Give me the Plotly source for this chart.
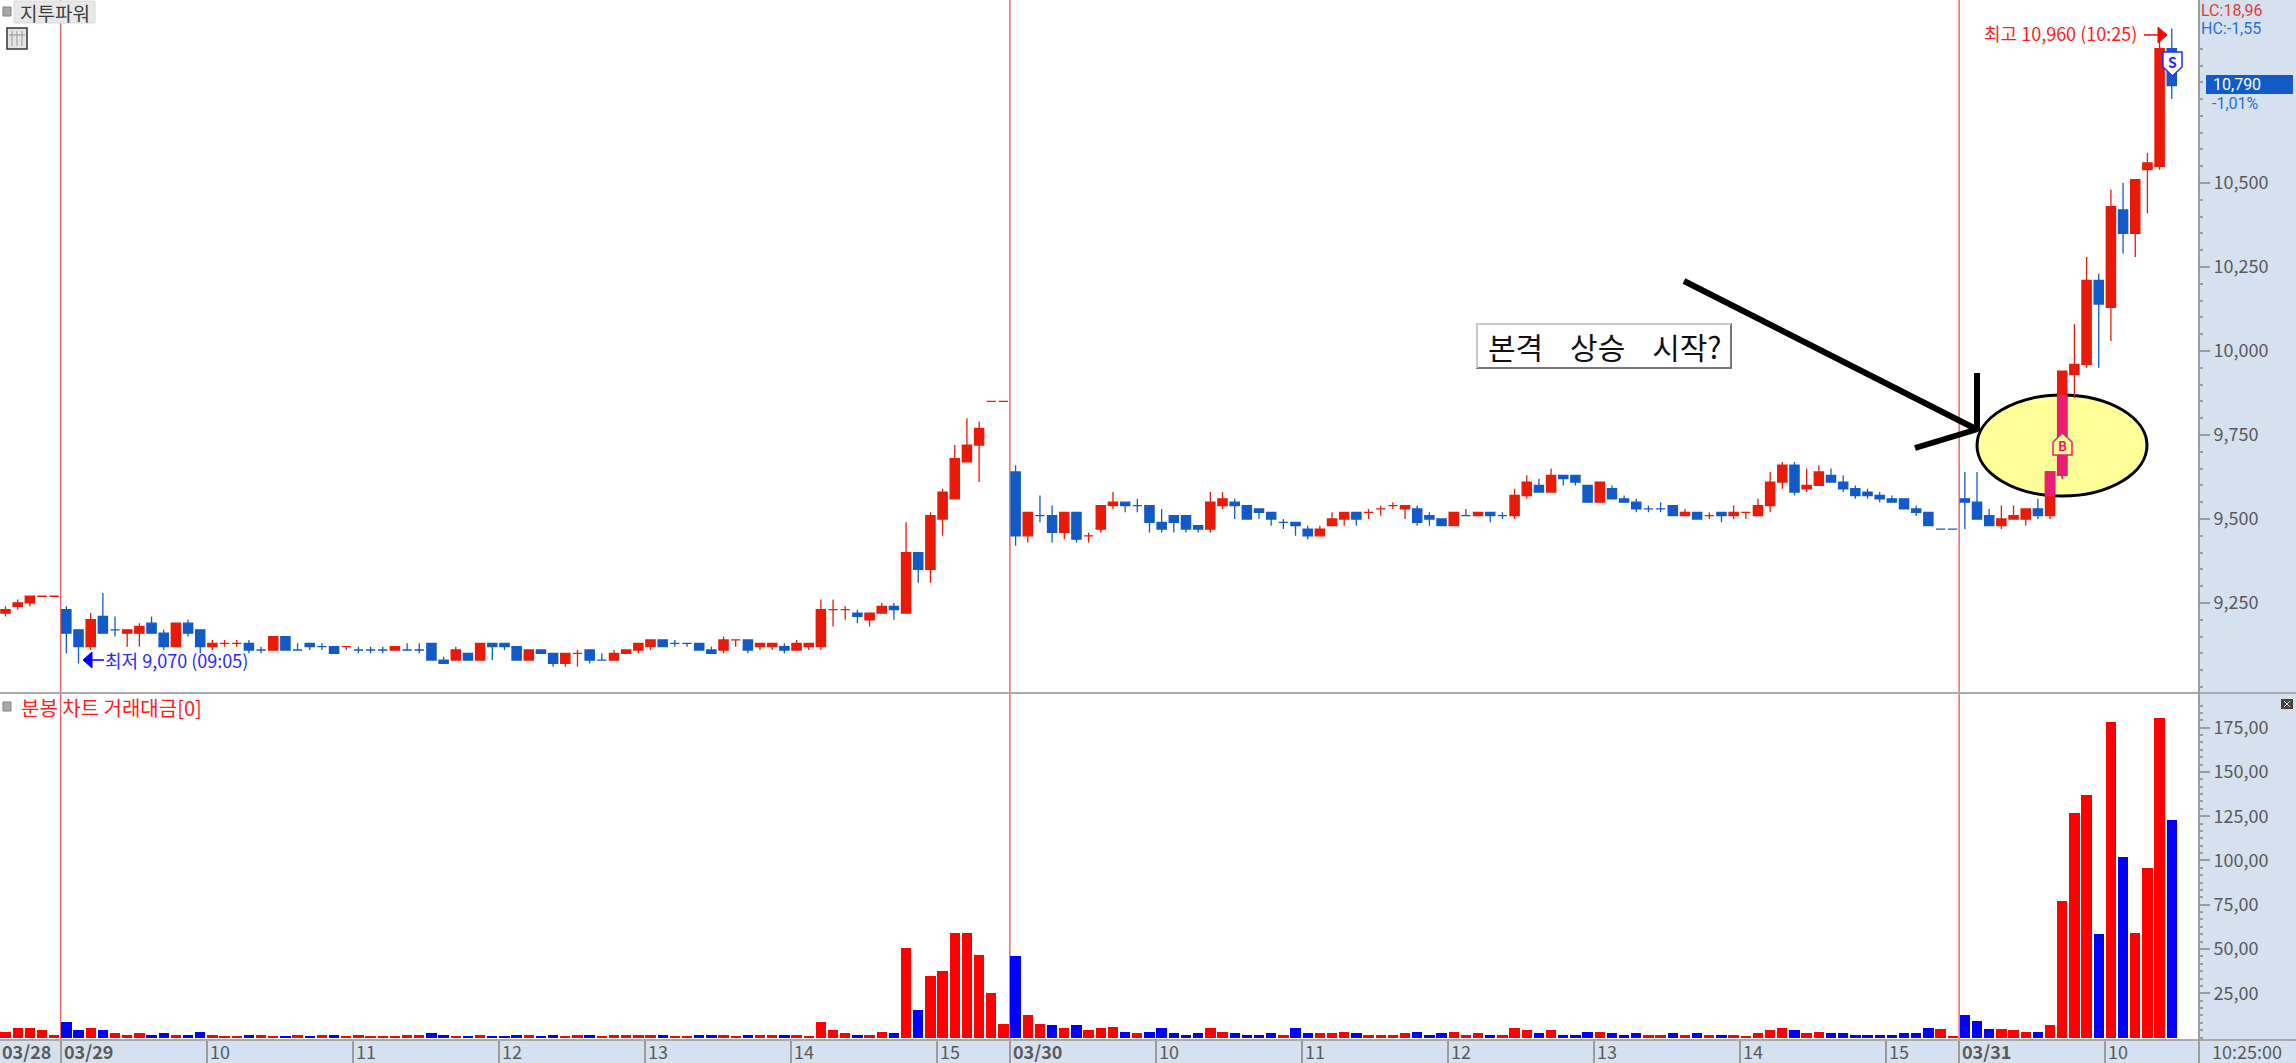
import plotly.graph_objects as go

W, H = 2296, 1063
FONT = "Noto Sans CJK KR"
LATIN = "Roboto"

opens = [9220,9240,9250,9270,9270,9230,9170,9120,9210,9170,
 9160,9160,9190,9160,9120,9190,9170,9120,9130,9130,
 9130,9110,9110,9150,9110,9130,9120,9120,9120,9110,
 9110,9110,9110,9110,9110,9130,9080,9080,9100,9080,
 9130,9130,9120,9080,9110,9100,9070,9100,9110,9080,
 9080,9100,9110,9120,9140,9130,9130,9130,9110,9110,
 9140,9140,9120,9120,9120,9110,9120,9120,9230,9230,
 9220,9200,9220,9240,9220,9400,9350,9500,9560,9670,
 9720,9850,9850,9640,9450,9510,9510,9460,9520,9450,
 9470,9540,9550,9540,9540,9490,9510,9510,9480,9470,
 9540,9550,9540,9530,9520,9490,9490,9470,9450,9480,
 9500,9520,9520,9530,9540,9530,9530,9510,9500,9480,
 9510,9510,9520,9510,9510,9570,9600,9580,9630,9630,
 9600,9550,9590,9560,9550,9530,9530,9540,9510,9520,
 9510,9520,9510,9520,9510,9540,9610,9660,9590,9600,
 9630,9610,9590,9580,9570,9560,9560,9530,9520,9470,
 9470,9560,9550,9510,9480,9500,9500,9530,9510,9630,
 9930,9960,10210,10130,10420,10350,10540,10550,10900]
highs = [9240,9260,9270,9270,9270,9240,9170,9220,9280,9210,
 9170,9190,9210,9170,9190,9200,9170,9140,9140,9140,
 9140,9120,9150,9150,9130,9130,9130,9120,9120,9120,
 9120,9120,9120,9130,9130,9130,9090,9120,9100,9130,
 9130,9130,9120,9110,9110,9100,9100,9110,9110,9100,
 9110,9110,9130,9140,9140,9140,9130,9130,9120,9150,
 9140,9140,9130,9130,9130,9140,9130,9260,9260,9240,
 9230,9220,9250,9250,9490,9400,9520,9590,9720,9800,
 9790,9850,9850,9660,9520,9570,9540,9520,9520,9460,
 9540,9580,9550,9560,9540,9530,9510,9510,9480,9580,
 9580,9560,9540,9530,9520,9500,9490,9480,9480,9520,
 9520,9520,9530,9540,9550,9540,9540,9520,9500,9520,
 9530,9520,9520,9520,9590,9630,9620,9650,9630,9630,
 9600,9610,9600,9570,9560,9540,9550,9540,9530,9520,
 9520,9520,9540,9520,9560,9640,9670,9670,9650,9660,
 9650,9630,9600,9590,9580,9570,9560,9540,9520,9470,
 9470,9640,9640,9530,9540,9540,9530,9560,9640,9940,
 10080,10280,10230,10480,10500,10510,10590,10920,10960]
lows = [9210,9230,9240,9270,9270,9100,9070,9110,9160,9150,
 9120,9120,9160,9110,9120,9150,9100,9110,9120,9120,
 9100,9100,9110,9110,9110,9110,9110,9100,9110,9100,
 9100,9100,9110,9110,9100,9080,9070,9080,9080,9080,
 9080,9110,9080,9080,9100,9060,9060,9060,9070,9080,
 9080,9100,9100,9110,9120,9120,9120,9110,9100,9100,
 9120,9100,9110,9110,9100,9110,9110,9110,9180,9200,
 9190,9180,9220,9200,9220,9310,9310,9450,9560,9670,
 9610,9850,9850,9420,9430,9490,9430,9440,9430,9430,
 9460,9530,9520,9520,9460,9460,9460,9460,9460,9460,
 9530,9500,9500,9500,9480,9470,9450,9440,9450,9480,
 9480,9480,9500,9510,9530,9500,9480,9480,9480,9480,
 9510,9510,9490,9500,9500,9560,9580,9580,9600,9600,
 9550,9550,9560,9550,9520,9520,9520,9510,9510,9500,
 9500,9490,9500,9500,9510,9520,9590,9570,9580,9600,
 9610,9580,9560,9560,9550,9550,9530,9510,9480,9470,
 9470,9470,9500,9480,9470,9500,9480,9500,9500,9620,
 9860,9950,9950,10030,10290,10280,10410,10540,10750]
closes = [9230,9250,9270,9270,9270,9160,9120,9200,9160,9170,
 9170,9180,9160,9120,9190,9160,9120,9130,9130,9130,
 9110,9110,9150,9110,9110,9120,9120,9100,9120,9110,
 9110,9110,9120,9110,9110,9080,9070,9110,9080,9130,
 9120,9120,9080,9110,9100,9070,9100,9100,9080,9080,
 9100,9110,9130,9140,9120,9130,9130,9110,9100,9140,
 9140,9110,9130,9130,9110,9130,9130,9230,9230,9230,
 9210,9220,9240,9230,9400,9350,9510,9580,9680,9720,
 9770,9850,9850,9450,9520,9510,9460,9520,9440,9450,
 9540,9550,9540,9540,9490,9470,9490,9470,9470,9550,
 9560,9540,9500,9520,9500,9490,9480,9450,9470,9500,
 9520,9500,9520,9530,9540,9540,9490,9500,9480,9520,
 9510,9520,9510,9510,9570,9610,9580,9630,9620,9610,
 9550,9610,9560,9550,9530,9530,9530,9510,9520,9500,
 9510,9510,9520,9520,9540,9610,9660,9580,9600,9640,
 9610,9590,9570,9570,9560,9550,9530,9520,9480,9470,
 9470,9550,9500,9480,9500,9510,9530,9510,9640,9940,
 9960,10210,10140,10430,10350,10510,10560,10900,10790]
flat_blue = [9,21,24,26,29,30,31,33,34,49,55,56,85,93,105,120,123,135,136,159,160]
volume = [3.4,5.1,5.1,4.1,1.7,8.7,4.1,5.1,4.1,2.6,
 1.7,2.6,1.7,2.6,1.7,1.7,3.4,1.7,0.8,0.8,
 1.7,1.7,0.8,0.8,1.7,0.8,1.7,1.7,0.8,1.7,
 0.8,0.8,0.8,1.7,1.7,2.6,1.7,0.8,0.8,1.7,
 0.8,0.8,1.2,1.7,0.8,1.7,0.8,1.2,1.7,0.8,
 1.7,1.2,1.7,1.7,1.2,0.8,0.8,1.2,1.2,1.7,
 0.8,1.7,1.2,1.2,1.2,1.7,0.8,8.5,4.1,2.4,
 1.7,1.7,3.4,2.4,50.8,15.3,34.7,37.3,59.3,59.3,
 46.5,25.4,7.5,45.8,12.6,7.5,6.8,5.1,6.8,4.1,
 5.1,5.8,3.4,2.4,3.4,5.1,2.4,1.7,2.4,5.1,
 3.4,2.4,1.7,1.7,2.4,1.7,5.1,2.4,2.4,2.4,
 3.4,2.4,1.7,1.2,1.2,2.4,3.4,1.7,2.4,3.4,
 1.7,2.4,1.7,1.2,5.1,4.1,2.4,4.1,1.7,1.7,
 3.4,3.4,2.4,1.7,2.4,1.2,1.2,2.4,1.7,2.4,
 1.2,1.7,1.7,0.8,2.4,4.1,5.1,4.1,2.4,3.4,
 2.4,2.4,1.7,1.7,1.7,1.7,2.4,2.4,5.1,4.9,
 0.8,12.6,9.2,4.9,4.9,4.1,3.4,3.4,6.8,77,
 127,137,58.4,178,101.7,59,95.7,180.4,122.8]

highlight_x = [168, 169]
highlight_open = [9570, 9630]
highlight_high = [9640, 9867]
highlight_low = [9570, 9620]
highlight_close = [9640, 9867]

time_bar = [5,17,29,41,53,65,77,83,95,107,119,131,143,155,161,173]
time_text = ["03/29","10","11","12","13","14","15","03/30","10","11","12","13","14","15","03/31","10"]
day_bars = [5, 83, 161]

price_ticks = [9250,9500,9750,10000,10250,10500,10750]
price_text = ["9,250","9,500","9,750","10,000","10,250","10,500",""]
price_minor = [v for v in range(9000, 10901, 50)]
vol_ticks = [25,50,75,100,125,150,175]
vol_text = ["25,00","50,00","75,00","100,00","125,00","150,00","175,00"]
vol_minor = [i*25/6 for i in range(0, 46)]

RED, BLUE = "#E81A08", "#125AC8"
VRED, VBLUE = "#FF0000", "#0000FF"
PINK = "#E91E74"
GRAY = "#9C9C9C"
TXT = "#5A5A5A"
PANEL = "#D6E1EF"

n = len(closes)
xs = list(range(n))
is_blue = [closes[i] < opens[i] or (closes[i] == opens[i] and i in flat_blue) for i in xs]

def sub(lst, idx):
    return [lst[i] for i in idx]

def candle(idx, color):
    return go.Candlestick(
        x=idx, open=sub(opens, idx), high=sub(highs, idx), low=sub(lows, idx), close=sub(closes, idx),
        increasing=dict(line=dict(color=color, width=1.3), fillcolor=color),
        decreasing=dict(line=dict(color=color, width=1.3), fillcolor=color),
        whiskerwidth=0, xaxis="x", yaxis="y", showlegend=False, hoverinfo="skip")

fig = go.Figure()
red_i = [i for i in xs if not is_blue[i]]
blue_i = [i for i in xs if is_blue[i]]
fig.add_trace(candle(red_i, RED))
fig.add_trace(candle(blue_i, BLUE))
fig.add_trace(go.Candlestick(
    x=highlight_x, open=highlight_open, high=highlight_high, low=highlight_low, close=highlight_close,
    increasing=dict(line=dict(color=PINK, width=1.3), fillcolor=PINK),
    decreasing=dict(line=dict(color=PINK, width=1.3), fillcolor=PINK),
    whiskerwidth=0, xaxis="x", yaxis="y", showlegend=False, hoverinfo="skip"))

vr = [i for i in xs if closes[i] >= opens[i]]
vb = [i for i in xs if closes[i] < opens[i]]
fig.add_trace(go.Bar(x=vr, y=sub(volume, vr), marker=dict(color=VRED, line=dict(width=0)), width=0.85,
                     xaxis="x2", yaxis="y2", showlegend=False, hoverinfo="skip"))
fig.add_trace(go.Bar(x=vb, y=sub(volume, vb), marker=dict(color=VBLUE, line=dict(width=0)), width=0.85,
                     xaxis="x2", yaxis="y2", showlegend=False, hoverinfo="skip"))

PX0, PXS = 5.5, 12.17
XR = [(0 - PX0) / PXS, (2199 - PX0) / PXS]
px = lambda x: x / W
py = lambda y: 1 - y / H
tick_pos = [b - 0.47 for b in time_bar]

def prect(x0, y0, x1, y1, fill, line=None, lw=1, layer="above"):
    return dict(type="rect", xref="paper", yref="paper", x0=px(x0), x1=px(x1), y0=py(y0), y1=py(y1),
                fillcolor=fill, line=dict(color=line or fill, width=lw if line else 0), layer=layer)

def pline(x0, y0, x1, y1, color, lw, layer="above"):
    return dict(type="line", xref="paper", yref="paper", x0=px(x0), x1=px(x1), y0=py(y0), y1=py(y1),
                line=dict(color=color, width=lw), layer=layer)

def ppath(pts, fill, line, lw=1.5, layer="above"):
    d = "M " + " L ".join(f"{px(x):.5f},{py(y):.5f}" for x, y in pts) + " Z"
    return dict(type="path", xref="paper", yref="paper", path=d, fillcolor=fill,
                line=dict(color=line, width=lw), layer=layer)

shapes = []
# separators
shapes.append(pline(0, 693, W, 693, "#ABABAB", 2))
shapes.append(pline(0, 1040, W, 1040, "#ABABAB", 2))
shapes.append(pline(2199, 0, 2199, H, GRAY, 2))
# day lines
for b in day_bars:
    shapes.append(dict(type="line", xref="x", yref="paper", x0=b-0.47, x1=b-0.47, y0=py(1040), y1=1,
                       line=dict(color="#E56B6B", width=1.5), layer="below"))
# ellipse
shapes.append(dict(type="circle", xref="paper", yref="paper", x0=px(1977), x1=px(2147), y0=py(496), y1=py(395),
                   fillcolor="#FFFF99", line=dict(color="#000000", width=3), layer="below"))
# hand drawn arrow
shapes.append(pline(1684, 281, 1976, 429, "#000000", 6))
shapes.append(pline(1977, 373, 1977, 431, "#000000", 6))
shapes.append(pline(1915, 448, 1978, 429, "#000000", 6))
# text box with bevelled border
shapes.append(prect(1477, 324, 1731, 368, "#FFFFFF", "#777777", 2))
shapes.append(pline(1476, 324, 1731, 324, "#C8C8C8", 2))
shapes.append(pline(1477, 324, 1477, 368, "#C8C8C8", 2))
# S marker and B marker
shapes.append(ppath([(2163,52),(2182,52),(2182,67),(2172.5,76),(2163,67)], "#FFFFFF", "#2A2AFF", 1.5))
shapes.append(ppath([(2053,442),(2062.5,433),(2072,442),(2072,455),(2053,455)], "#FFFF99", PINK, 1.5))
# high / low arrows
shapes.append(pline(2144, 35, 2160, 35, "#FF0000", 1.5))
shapes.append(ppath([(2158,27),(2167,35),(2158,43)], "#FF0000", "#FF0000", 1))
shapes.append(pline(90, 660, 104, 660, "#0000FF", 1.5))
shapes.append(ppath([(92,652),(83,660),(92,668)], "#0000FF", "#0000FF", 1))
# price tag
shapes.append(prect(2206, 75, 2293, 94, "#125AC8"))
# corner widgets
shapes.append(prect(3, 7, 11, 16, "#A8A8A8", "#808080", 1))
shapes.append(prect(14, 1, 95, 23, "#E8E8E8", "#DADADA", 1))
shapes.append(prect(7, 28, 27, 49, "#E4E4E4", "#333333", 1.5))
for gx in (12, 17, 22):
    shapes.append(pline(gx, 31, gx, 46, "#999999", 1))
shapes.append(pline(9, 35, 25, 35, "#999999", 1))
shapes.append(prect(3, 702, 11, 711, "#A8A8A8", "#808080", 1))
shapes.append(prect(2281, 699, 2293, 709, "#444444"))
shapes.append(pline(2284, 701, 2290, 707, "#E0E0E0", 1))
shapes.append(pline(2284, 707, 2290, 701, "#E0E0E0", 1))

def note(x, y, text, color, size, anchor="left", bold=False, family=FONT):
    if bold:
        text = f"<b>{text}</b>"
    return dict(xref="paper", yref="paper", x=px(x), y=py(y), text=text, showarrow=False,
                xanchor=anchor, yanchor="middle", font=dict(family=family, size=size, color=color),
                borderpad=0, borderwidth=0)

ann = []
ann.append(note(2, 1051, "03/28", TXT, 18, bold=True))
for b, t in zip(time_bar, time_text):
    xp = PX0 + (b - 0.47) * PXS + 3
    ann.append(note(xp, 1051, t, TXT, 18, bold="/" in t))
ann.append(note(2212, 1051, "10:25:00", TXT, 18))
ann.append(note(2201, 10, "LC:18,96", "#E03A3A", 16, family=LATIN))
ann.append(note(2201, 29, "HC:-1,55", "#2A6FD6", 16, family=LATIN))
ann.append(note(2213, 84.5, "10,790", "#FFFFFF", 16, family=LATIN))
ann.append(note(2212, 103.5, "-1,01%", "#2A6FD6", 16, family=LATIN))
ann.append(note(2137, 33, "최고 10,960 (10:25)", "#FF2020", 18, anchor="right"))
ann.append(note(105, 660, "최저 9,070 (09:05)", "#2A2AFF", 18))
ann.append(note(20, 12, "지투파워", "#3C3C3C", 19))
ann.append(note(21, 707, "분봉 차트 거래대금[0]", "#FF2020", 20))
ann.append(note(1605, 346, "본격\u00a0\u00a0\u00a0\u00a0상승\u00a0\u00a0\u00a0\u00a0시작?", "#111111", 30, anchor="center"))
ann.append(note(2172.5, 62, "S", "#2A2AFF", 14, anchor="center", bold=True))
ann.append(note(2062.5, 446, "B", PINK, 13, anchor="center", bold=True))

axis_common = dict(showgrid=False, zeroline=False, fixedrange=True)
fig.update_layout(
    width=W, height=H, margin=dict(l=0, r=0, t=0, b=0, pad=0),
    paper_bgcolor=PANEL, plot_bgcolor="#FFFFFF",
    barmode="overlay", bargap=0, showlegend=False,
    boxmode="overlay", boxgap=0.24, boxgroupgap=0,
    font=dict(family=FONT, size=18, color=TXT),
    shapes=shapes, annotations=ann,
    xaxis=dict(domain=[0, 2199/W], range=XR, anchor="y", showticklabels=False, ticks="",
               rangeslider=dict(visible=False), **axis_common),
    yaxis=dict(domain=[py(693), 1], range=[8982, 11045], anchor="x", side="right",
               tickmode="array", tickvals=price_ticks, ticktext=price_text,
               ticks="outside", ticklen=10, tickwidth=1.5, tickcolor=GRAY,
               tickfont=dict(family=FONT, size=18, color=TXT),
               minor=dict(tickmode="array", tickvals=price_minor, ticks="outside", ticklen=3,
                          tickwidth=1.5, tickcolor=GRAY, showgrid=False),
               **axis_common),
    xaxis2=dict(domain=[0, 2199/W], range=XR, anchor="y2", tickmode="array", tickvals=tick_pos,
                ticktext=["" for _ in tick_pos], ticks="outside", ticklen=23, tickwidth=1.5, tickcolor=GRAY,
                **axis_common),
    yaxis2=dict(domain=[py(1040), py(693)], range=[-1.4, 194.6], anchor="x2", side="right",
                tickmode="array", tickvals=vol_ticks, ticktext=vol_text,
                ticks="outside", ticklen=10, tickwidth=1.5, tickcolor=GRAY,
                tickfont=dict(family=FONT, size=18, color=TXT),
                minor=dict(tickmode="array", tickvals=vol_minor, ticks="outside", ticklen=3,
                           tickwidth=1.5, tickcolor=GRAY, showgrid=False),
                **axis_common),
)

fig.write_html("out.html", config=dict(displayModeBar=False),
               post_script="document.body.style.margin='0';document.body.style.overflow='hidden';")
